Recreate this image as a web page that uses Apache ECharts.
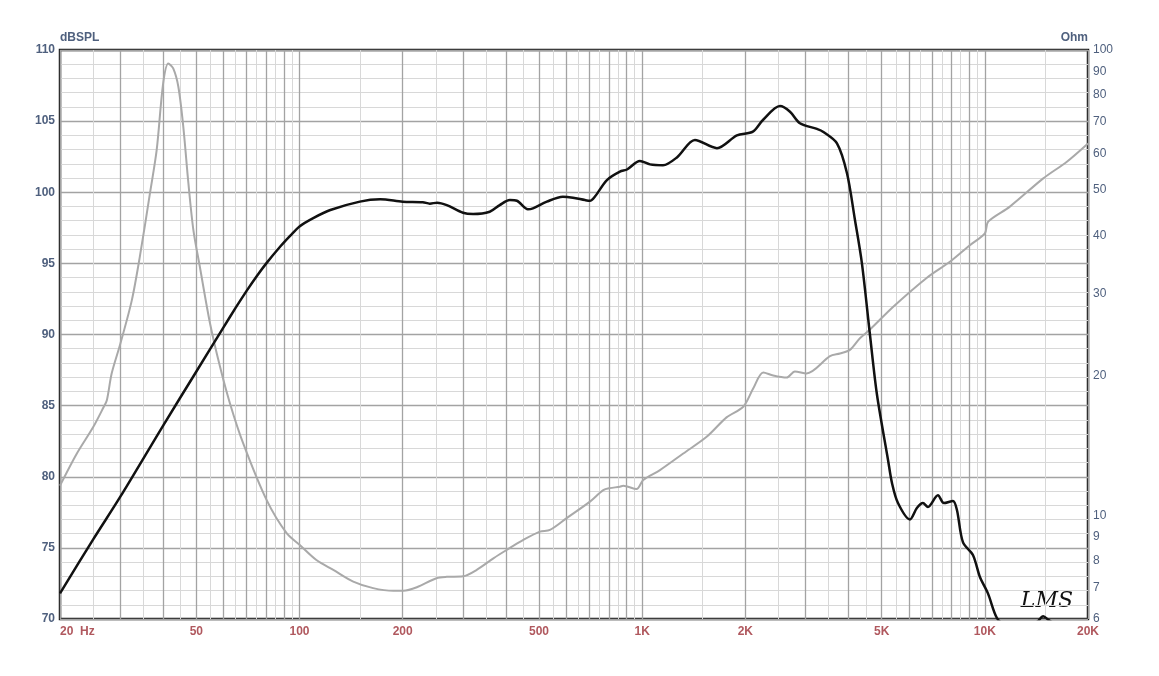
<!DOCTYPE html>
<html>
<head>
<meta charset="utf-8">
<script src="https://cdn.jsdelivr.net/npm/echarts@6/dist/echarts.min.js"></script>
<style>
  html, body { margin: 0; padding: 0; background: #fff; }
  #chart { width: 1159px; height: 676px; }
</style>
</head>
<body>
<div id="chart"></div>
<script>
// SPL response (Hz, dB)
var splFreq = [20, 25, 30, 40, 50, 60, 65, 70, 75, 80, 88, 94, 100, 110, 123, 150, 172, 200, 229, 240, 252, 269, 300,
  321, 359, 384, 411, 431, 464, 480, 527, 587, 628, 681, 704, 728, 789, 861, 903, 985, 1054, 1150, 1263, 1425, 1653,
  1890, 2104, 2251, 2524, 2700, 2886, 3236, 3370, 3702, 3960, 4178, 4378, 4620, 4842, 5216, 5358, 5578, 6044, 6334,
  6596, 6822, 7296, 7596, 8070, 8290, 8630, 9230, 9674, 10210, 10846, 11500, 13000, 14200, 14800, 15400, 17000, 20000];
var splDb = [71.8, 75.6, 78.6, 83.6, 87.4, 90.5, 91.85, 93.05, 94.1, 95.0, 96.2, 96.95, 97.6, 98.2, 98.75, 99.34, 99.5,
  99.34, 99.3, 99.2, 99.27, 99.1, 98.56, 98.47, 98.63, 99.1, 99.45, 99.4, 98.8, 98.87, 99.34, 99.69, 99.62, 99.45,
  99.4, 99.7, 100.86, 101.45, 101.6, 102.2, 101.96, 101.9, 102.45, 103.67, 103.1, 104.0, 104.26, 105.08, 106.06,
  105.66, 104.85, 104.45, 104.26, 103.44, 101.33, 98.05, 95.0, 90.0, 85.8, 81.2, 79.56, 78.15, 77.0, 77.8, 78.15,
  77.87, 78.7, 78.15, 78.3, 77.66, 75.4, 74.5, 72.95, 71.8, 70.07, 69.6, 69.5, 69.8, 70.2, 69.9, 69.3, 68.8];

// impedance (Hz, Ohm)
var impFreq = [20, 22.4, 25, 26.8, 27.4, 28.3, 30, 32.4, 34.2, 36.6, 38.3, 40, 41.4, 42.8, 44.3, 45.8, 47.4, 49, 51.2,
  54.8, 58.6, 62.7, 68.5, 80.2, 91.7, 100, 112, 125.5, 143.5, 164, 188, 201, 220, 251, 269, 300, 329, 368, 402,
  450, 503, 538, 602, 704, 770, 805, 861, 880, 963, 1007, 1127, 1318, 1542, 1763, 1972, 2110, 2256, 2412, 2640, 2790,
  3018, 3532, 3776, 4038, 4320, 4620, 5404, 6762, 7908, 9044, 10000, 10226, 11832, 14806, 17320, 20000];
var impOhm = [11.6, 13.6, 15.5, 17.1, 17.7, 20.2, 23.4, 29.0, 36.0, 49.2, 61.0, 84.8, 93.6, 91.3, 83.4, 68.4, 51.7,
  41.1, 34.2, 25.9, 20.9, 17.4, 14.3, 10.8, 9.17, 8.66, 8.03, 7.65, 7.22, 6.99, 6.9, 6.9, 7.02, 7.34, 7.39, 7.41,
  7.65, 8.1, 8.44, 8.87, 9.24, 9.32, 9.88, 10.72, 11.35, 11.46, 11.54, 11.6, 11.41, 11.93, 12.53, 13.6, 14.77, 16.26,
  17.14, 18.78, 20.3, 20.0, 19.8, 20.4, 20.2, 22.0, 22.3, 22.7, 24.05, 25.1, 28.1, 32.4, 35.1, 38.1, 40.4, 42.8, 46.1,
  53.0, 57.5, 63.0];

// tick labels
var freqLabels = [20, 50, 100, 200, 500, 1000, 2000, 5000, 10000, 20000];
var ohmLabels = [6, 7, 8, 9, 10, 20, 30, 40, 50, 60, 70, 80, 90, 100];

var LOG = function (v) { return Math.log10(v); };

// grid lines: 1..9 per decade (major), halfway steps (minor)
var majorFreq = [], minorFreq = [];
[10, 100, 1000, 10000].forEach(function (d) {
  for (var n = 1; n <= 9; n++) {
    if (n * d >= 20 && n * d <= 20000) majorFreq.push(n * d);
    if ((n + 0.5) * d > 20 && (n + 0.5) * d < 20000) minorFreq.push((n + 0.5) * d);
  }
});

var blue = '#4f607e';
var red = '#b0585e';
var font = 'Arial, "Liberation Sans", sans-serif';

var option = {
  animation: false,
  grid: {
    left: 60, right: 71, top: 50, bottom: 57,
    show: true, borderColor: '#1a1a1a', borderWidth: 2.5, backgroundColor: '#fff'
  },
  xAxis: [
    {
      type: 'value',
      min: LOG(20), max: LOG(20000),
      axisLine: { show: false },
      axisTick: { show: false, customValues: majorFreq.map(LOG) },
      axisLabel: {
        customValues: freqLabels.map(LOG),
        alignMinLabel: 'left',
        color: red, fontWeight: 'bold', fontSize: 12, fontFamily: font, margin: 7,
        formatter: function (v) {
          var f = Math.round(Math.pow(10, v));
          if (f >= 1000) return (f / 1000) + 'K';
          if (f === 20) return '20  Hz';
          return String(f);
        }
      },
      splitLine: { show: true, lineStyle: { color: '#a3a3a3', width: 1.3 } }
    },
    {
      type: 'value',
      position: 'top',
      min: LOG(20), max: LOG(20000),
      axisLine: { show: false },
      axisTick: { show: false, customValues: minorFreq.map(LOG) },
      axisLabel: { show: false },
      splitLine: { show: true, lineStyle: { color: '#d8d8d8', width: 1 } }
    }
  ],
  yAxis: [
    {
      type: 'value',
      position: 'left',
      min: 70, max: 110, interval: 5,
      name: 'dBSPL',
      nameLocation: 'end',
      nameGap: 4,
      nameTextStyle: { color: blue, fontWeight: 'bold', fontSize: 12, fontFamily: font, align: 'left' },
      axisLine: { show: false },
      axisTick: { show: false },
      axisLabel: { color: blue, fontWeight: 'bold', fontSize: 12, fontFamily: font, margin: 5 },
      splitLine: { show: true, lineStyle: { color: '#a3a3a3', width: 1.3 } },
      minorTick: { show: false, splitNumber: 5 },
      minorSplitLine: { show: true, lineStyle: { color: '#d8d8d8', width: 1 } }
    },
    {
      type: 'value',
      position: 'right',
      min: LOG(6), max: 2,
      name: 'Ohm',
      nameLocation: 'end',
      nameGap: 4,
      nameTextStyle: { color: blue, fontWeight: 'bold', fontSize: 12, fontFamily: font, align: 'right' },
      axisLine: { show: false },
      axisTick: { show: false },
      axisLabel: {
        customValues: ohmLabels.map(LOG),
        color: blue, fontSize: 12, fontFamily: font, margin: 5,
        formatter: function (v) { return String(Math.round(Math.pow(10, v))); }
      },
      splitLine: { show: false }
    }
  ],
  graphic: [
    {
      type: 'text',
      right: 86, bottom: 64,
      style: { text: 'LMS', fontSize: 22, fontStyle: 'italic', fontFamily: '"DejaVu Serif", serif', fill: '#111' }
    }
  ],
  series: [
    {
      name: 'Impedance',
      type: 'line',
      xAxisIndex: 0, yAxisIndex: 1,
      data: impFreq.map(function (f, i) { return [LOG(f), LOG(impOhm[i])]; }),
      showSymbol: false,
      smooth: 0.3,
      lineStyle: { color: '#a9a9a9', width: 2 },
      z: 3
    },
    {
      name: 'SPL',
      type: 'line',
      xAxisIndex: 0, yAxisIndex: 0,
      data: splFreq.map(function (f, i) { return [LOG(f), splDb[i]]; }),
      showSymbol: false,
      smooth: 0.3,
      lineStyle: { color: '#111', width: 2.5 },
      z: 4
    }
  ]
};

var chart = echarts.init(document.getElementById('chart'));
chart.setOption(option);
</script>
</body>
</html>
